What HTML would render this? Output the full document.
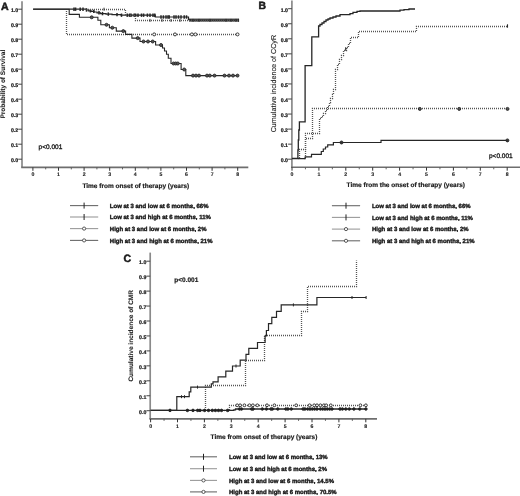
<!DOCTYPE html>
<html><head><meta charset="utf-8"><style>
html,body{margin:0;padding:0;background:#fff;width:520px;height:496px;overflow:hidden}
svg{display:block;filter:blur(0.45px)}
text{font-family:"Liberation Sans", sans-serif;fill:#1a1a1a;stroke:#1a1a1a;stroke-width:0.28px;text-rendering:geometricPrecision}
</style></head><body>
<svg width="520" height="496" viewBox="0 0 520 496">
<rect width="520" height="496" fill="#fff"/>
<text x="1.0" y="9.6" font-size="10.6" font-weight="bold" style="stroke-width:0.5px">A</text>
<line x1="22.0" y1="1.3" x2="22.0" y2="167.4" stroke="#8a8a8a" stroke-width="1.7"/>
<line x1="21.2" y1="167.4" x2="248.3" y2="167.4" stroke="#6e6e6e" stroke-width="1.6"/>
<line x1="18.2" y1="9.199999999999989" x2="22.0" y2="9.199999999999989" stroke="#444" stroke-width="1"/>
<text x="18.1" y="11.99999999999999" text-anchor="end" font-size="5.2" font-weight="bold" style="stroke-width:0.22px">1.0</text>
<line x1="18.2" y1="24.19999999999999" x2="22.0" y2="24.19999999999999" stroke="#444" stroke-width="1"/>
<text x="18.1" y="26.99999999999999" text-anchor="end" font-size="5.2" font-weight="bold" style="stroke-width:0.22px">0.9</text>
<line x1="18.2" y1="39.19999999999999" x2="22.0" y2="39.19999999999999" stroke="#444" stroke-width="1"/>
<text x="18.1" y="41.999999999999986" text-anchor="end" font-size="5.2" font-weight="bold" style="stroke-width:0.22px">0.8</text>
<line x1="18.2" y1="54.19999999999999" x2="22.0" y2="54.19999999999999" stroke="#444" stroke-width="1"/>
<text x="18.1" y="56.999999999999986" text-anchor="end" font-size="5.2" font-weight="bold" style="stroke-width:0.22px">0.7</text>
<line x1="18.2" y1="69.19999999999999" x2="22.0" y2="69.19999999999999" stroke="#444" stroke-width="1"/>
<text x="18.1" y="71.99999999999999" text-anchor="end" font-size="5.2" font-weight="bold" style="stroke-width:0.22px">0.6</text>
<line x1="18.2" y1="84.19999999999999" x2="22.0" y2="84.19999999999999" stroke="#444" stroke-width="1"/>
<text x="18.1" y="86.99999999999999" text-anchor="end" font-size="5.2" font-weight="bold" style="stroke-width:0.22px">0.5</text>
<line x1="18.2" y1="99.19999999999999" x2="22.0" y2="99.19999999999999" stroke="#444" stroke-width="1"/>
<text x="18.1" y="101.99999999999999" text-anchor="end" font-size="5.2" font-weight="bold" style="stroke-width:0.22px">0.4</text>
<line x1="18.2" y1="114.19999999999999" x2="22.0" y2="114.19999999999999" stroke="#444" stroke-width="1"/>
<text x="18.1" y="116.99999999999999" text-anchor="end" font-size="5.2" font-weight="bold" style="stroke-width:0.22px">0.3</text>
<line x1="18.2" y1="129.2" x2="22.0" y2="129.2" stroke="#444" stroke-width="1"/>
<text x="18.1" y="132.0" text-anchor="end" font-size="5.2" font-weight="bold" style="stroke-width:0.22px">0.2</text>
<line x1="18.2" y1="144.2" x2="22.0" y2="144.2" stroke="#444" stroke-width="1"/>
<text x="18.1" y="147.0" text-anchor="end" font-size="5.2" font-weight="bold" style="stroke-width:0.22px">0.1</text>
<line x1="18.2" y1="159.2" x2="22.0" y2="159.2" stroke="#444" stroke-width="1"/>
<text x="18.1" y="162.0" text-anchor="end" font-size="5.2" font-weight="bold" style="stroke-width:0.22px">0.0</text>
<line x1="32.9" y1="167.4" x2="32.9" y2="170.8" stroke="#333" stroke-width="1"/>
<text x="32.9" y="176.3" text-anchor="middle" font-size="5.2" font-weight="bold" style="stroke-width:0.12px">0</text>
<line x1="45.7" y1="167.4" x2="45.7" y2="169.4" stroke="#555" stroke-width="0.9"/>
<line x1="58.5" y1="167.4" x2="58.5" y2="170.8" stroke="#333" stroke-width="1"/>
<text x="58.5" y="176.3" text-anchor="middle" font-size="5.2" font-weight="bold" style="stroke-width:0.12px">1</text>
<line x1="71.3" y1="167.4" x2="71.3" y2="169.4" stroke="#555" stroke-width="0.9"/>
<line x1="84.1" y1="167.4" x2="84.1" y2="170.8" stroke="#333" stroke-width="1"/>
<text x="84.1" y="176.3" text-anchor="middle" font-size="5.2" font-weight="bold" style="stroke-width:0.12px">2</text>
<line x1="96.9" y1="167.4" x2="96.9" y2="169.4" stroke="#555" stroke-width="0.9"/>
<line x1="109.70000000000002" y1="167.4" x2="109.70000000000002" y2="170.8" stroke="#333" stroke-width="1"/>
<text x="109.70000000000002" y="176.3" text-anchor="middle" font-size="5.2" font-weight="bold" style="stroke-width:0.12px">3</text>
<line x1="122.50000000000001" y1="167.4" x2="122.50000000000001" y2="169.4" stroke="#555" stroke-width="0.9"/>
<line x1="135.3" y1="167.4" x2="135.3" y2="170.8" stroke="#333" stroke-width="1"/>
<text x="135.3" y="176.3" text-anchor="middle" font-size="5.2" font-weight="bold" style="stroke-width:0.12px">4</text>
<line x1="148.10000000000002" y1="167.4" x2="148.10000000000002" y2="169.4" stroke="#555" stroke-width="0.9"/>
<line x1="160.9" y1="167.4" x2="160.9" y2="170.8" stroke="#333" stroke-width="1"/>
<text x="160.9" y="176.3" text-anchor="middle" font-size="5.2" font-weight="bold" style="stroke-width:0.12px">5</text>
<line x1="173.70000000000002" y1="167.4" x2="173.70000000000002" y2="169.4" stroke="#555" stroke-width="0.9"/>
<line x1="186.50000000000003" y1="167.4" x2="186.50000000000003" y2="170.8" stroke="#333" stroke-width="1"/>
<text x="186.50000000000003" y="176.3" text-anchor="middle" font-size="5.2" font-weight="bold" style="stroke-width:0.12px">6</text>
<line x1="199.3" y1="167.4" x2="199.3" y2="169.4" stroke="#555" stroke-width="0.9"/>
<line x1="212.10000000000002" y1="167.4" x2="212.10000000000002" y2="170.8" stroke="#333" stroke-width="1"/>
<text x="212.10000000000002" y="176.3" text-anchor="middle" font-size="5.2" font-weight="bold" style="stroke-width:0.12px">7</text>
<line x1="224.90000000000003" y1="167.4" x2="224.90000000000003" y2="169.4" stroke="#555" stroke-width="0.9"/>
<line x1="237.70000000000002" y1="167.4" x2="237.70000000000002" y2="170.8" stroke="#333" stroke-width="1"/>
<text x="237.70000000000002" y="176.3" text-anchor="middle" font-size="5.2" font-weight="bold" style="stroke-width:0.12px">8</text>
<text transform="translate(3.6,84.2) rotate(-90)" x="0" y="0" text-anchor="middle" dominant-baseline="central" font-size="6.52" font-weight="bold" style="stroke-width:0.08px">Probability of Survival</text>
<text x="38.6" y="149.0" font-size="6.5" style="stroke-width:0.32px">p&lt;0.001</text>
<text x="135.8" y="188.0" text-anchor="middle" font-size="6.5" font-weight="bold" style="stroke-width:0.18px">Time from onset of therapy (years)</text>
<path d="M33.10,9.20 L86.50,9.20 L86.50,10.00 L88.50,10.00 L88.50,10.80 L91.00,10.80 L91.00,11.40 L94.00,11.40 L94.00,12.00 L97.00,12.00 L97.00,12.80 L100.50,12.80 L100.50,13.60 L106.00,13.60 L106.00,14.10 L112.00,14.10 L112.00,14.60 L121.00,14.60 L121.00,15.20 L155.30,15.20 L155.30,17.00 L188.50,17.00 L188.50,19.60 L190.00,19.60 L190.00,20.10 L238.60,20.10 L238.60,20.10" fill="none" stroke="#262626" stroke-width="1.2" stroke-linejoin="miter"/>
<line x1="74" y1="7.499999999999999" x2="74" y2="10.899999999999999" stroke="#262626" stroke-width="1.5"/>
<line x1="75.6" y1="7.499999999999999" x2="75.6" y2="10.899999999999999" stroke="#262626" stroke-width="1.5"/>
<line x1="80.2" y1="7.499999999999999" x2="80.2" y2="10.899999999999999" stroke="#262626" stroke-width="1.5"/>
<line x1="83" y1="7.499999999999999" x2="83" y2="10.899999999999999" stroke="#262626" stroke-width="1.5"/>
<line x1="86.5" y1="8.3" x2="86.5" y2="11.7" stroke="#262626" stroke-width="1.5"/>
<line x1="90.4" y1="9.100000000000001" x2="90.4" y2="12.5" stroke="#262626" stroke-width="1.5"/>
<line x1="93.8" y1="9.700000000000001" x2="93.8" y2="13.1" stroke="#262626" stroke-width="1.5"/>
<line x1="99" y1="11.100000000000001" x2="99" y2="14.5" stroke="#262626" stroke-width="1.5"/>
<line x1="102.5" y1="11.9" x2="102.5" y2="15.299999999999999" stroke="#262626" stroke-width="1.5"/>
<line x1="108.3" y1="12.4" x2="108.3" y2="15.799999999999999" stroke="#262626" stroke-width="1.5"/>
<line x1="117" y1="12.9" x2="117" y2="16.3" stroke="#262626" stroke-width="1.5"/>
<line x1="121.5" y1="13.5" x2="121.5" y2="16.9" stroke="#262626" stroke-width="1.5"/>
<line x1="127.3" y1="13.5" x2="127.3" y2="16.9" stroke="#262626" stroke-width="1.5"/>
<line x1="129.6" y1="13.5" x2="129.6" y2="16.9" stroke="#262626" stroke-width="1.5"/>
<line x1="131" y1="13.5" x2="131" y2="16.9" stroke="#262626" stroke-width="1.5"/>
<line x1="134.2" y1="13.5" x2="134.2" y2="16.9" stroke="#262626" stroke-width="1.5"/>
<line x1="135.6" y1="13.5" x2="135.6" y2="16.9" stroke="#262626" stroke-width="1.5"/>
<line x1="138" y1="13.5" x2="138" y2="16.9" stroke="#262626" stroke-width="1.5"/>
<line x1="141.5" y1="13.5" x2="141.5" y2="16.9" stroke="#262626" stroke-width="1.5"/>
<line x1="143.6" y1="13.5" x2="143.6" y2="16.9" stroke="#262626" stroke-width="1.5"/>
<line x1="147.4" y1="13.5" x2="147.4" y2="16.9" stroke="#262626" stroke-width="1.5"/>
<line x1="150" y1="13.5" x2="150" y2="16.9" stroke="#262626" stroke-width="1.5"/>
<line x1="153" y1="13.5" x2="153" y2="16.9" stroke="#262626" stroke-width="1.5"/>
<line x1="154.8" y1="13.5" x2="154.8" y2="16.9" stroke="#262626" stroke-width="1.5"/>
<line x1="161" y1="15.3" x2="161" y2="18.7" stroke="#262626" stroke-width="1.5"/>
<line x1="163.4" y1="15.3" x2="163.4" y2="18.7" stroke="#262626" stroke-width="1.5"/>
<line x1="166" y1="15.3" x2="166" y2="18.7" stroke="#262626" stroke-width="1.5"/>
<line x1="168" y1="15.3" x2="168" y2="18.7" stroke="#262626" stroke-width="1.5"/>
<line x1="169.2" y1="15.3" x2="169.2" y2="18.7" stroke="#262626" stroke-width="1.5"/>
<line x1="174" y1="15.3" x2="174" y2="18.7" stroke="#262626" stroke-width="1.5"/>
<line x1="176" y1="15.3" x2="176" y2="18.7" stroke="#262626" stroke-width="1.5"/>
<line x1="178.5" y1="15.3" x2="178.5" y2="18.7" stroke="#262626" stroke-width="1.5"/>
<line x1="181" y1="15.3" x2="181" y2="18.7" stroke="#262626" stroke-width="1.5"/>
<line x1="184.2" y1="15.3" x2="184.2" y2="18.7" stroke="#262626" stroke-width="1.5"/>
<line x1="186.5" y1="15.3" x2="186.5" y2="18.7" stroke="#262626" stroke-width="1.5"/>
<line x1="190" y1="18.400000000000002" x2="190" y2="21.8" stroke="#262626" stroke-width="1.5"/>
<line x1="192" y1="18.400000000000002" x2="192" y2="21.8" stroke="#262626" stroke-width="1.5"/>
<line x1="194" y1="18.400000000000002" x2="194" y2="21.8" stroke="#262626" stroke-width="1.5"/>
<line x1="196" y1="18.400000000000002" x2="196" y2="21.8" stroke="#262626" stroke-width="1.5"/>
<line x1="198" y1="18.400000000000002" x2="198" y2="21.8" stroke="#262626" stroke-width="1.5"/>
<line x1="200" y1="18.400000000000002" x2="200" y2="21.8" stroke="#262626" stroke-width="1.5"/>
<line x1="202" y1="18.400000000000002" x2="202" y2="21.8" stroke="#262626" stroke-width="1.5"/>
<line x1="204" y1="18.400000000000002" x2="204" y2="21.8" stroke="#262626" stroke-width="1.5"/>
<line x1="206" y1="18.400000000000002" x2="206" y2="21.8" stroke="#262626" stroke-width="1.5"/>
<line x1="208" y1="18.400000000000002" x2="208" y2="21.8" stroke="#262626" stroke-width="1.5"/>
<line x1="210" y1="18.400000000000002" x2="210" y2="21.8" stroke="#262626" stroke-width="1.5"/>
<line x1="212" y1="18.400000000000002" x2="212" y2="21.8" stroke="#262626" stroke-width="1.5"/>
<line x1="214" y1="18.400000000000002" x2="214" y2="21.8" stroke="#262626" stroke-width="1.5"/>
<line x1="216" y1="18.400000000000002" x2="216" y2="21.8" stroke="#262626" stroke-width="1.5"/>
<line x1="218" y1="18.400000000000002" x2="218" y2="21.8" stroke="#262626" stroke-width="1.5"/>
<line x1="220" y1="18.400000000000002" x2="220" y2="21.8" stroke="#262626" stroke-width="1.5"/>
<line x1="222" y1="18.400000000000002" x2="222" y2="21.8" stroke="#262626" stroke-width="1.5"/>
<line x1="224" y1="18.400000000000002" x2="224" y2="21.8" stroke="#262626" stroke-width="1.5"/>
<line x1="226" y1="18.400000000000002" x2="226" y2="21.8" stroke="#262626" stroke-width="1.5"/>
<line x1="228" y1="18.400000000000002" x2="228" y2="21.8" stroke="#262626" stroke-width="1.5"/>
<line x1="230" y1="18.400000000000002" x2="230" y2="21.8" stroke="#262626" stroke-width="1.5"/>
<line x1="232" y1="18.400000000000002" x2="232" y2="21.8" stroke="#262626" stroke-width="1.5"/>
<line x1="234" y1="18.400000000000002" x2="234" y2="21.8" stroke="#262626" stroke-width="1.5"/>
<line x1="236" y1="18.400000000000002" x2="236" y2="21.8" stroke="#262626" stroke-width="1.5"/>
<line x1="238" y1="18.400000000000002" x2="238" y2="21.8" stroke="#262626" stroke-width="1.5"/>
<path d="M86.50,9.50 L125.50,9.50 L125.50,15.50 L135.50,15.50 L135.50,20.50 L238.50,20.50 L238.50,20.50" fill="none" stroke="#555" stroke-width="1.3" stroke-dasharray="1,1" stroke-dashoffset="0.5" stroke-linejoin="miter"/>
<line x1="104" y1="7.699999999999999" x2="104" y2="10.7" stroke="#262626" stroke-width="0.9"/>
<line x1="150" y1="18.9" x2="150" y2="21.9" stroke="#262626" stroke-width="0.9"/>
<line x1="162" y1="18.9" x2="162" y2="21.9" stroke="#262626" stroke-width="0.9"/>
<line x1="171" y1="18.9" x2="171" y2="21.9" stroke="#262626" stroke-width="0.9"/>
<line x1="180" y1="18.9" x2="180" y2="21.9" stroke="#262626" stroke-width="0.9"/>
<line x1="193" y1="18.9" x2="193" y2="21.9" stroke="#262626" stroke-width="0.9"/>
<line x1="199" y1="18.9" x2="199" y2="21.9" stroke="#262626" stroke-width="0.9"/>
<line x1="210" y1="18.9" x2="210" y2="21.9" stroke="#262626" stroke-width="0.9"/>
<line x1="226" y1="18.9" x2="226" y2="21.9" stroke="#262626" stroke-width="0.9"/>
<line x1="231" y1="18.9" x2="231" y2="21.9" stroke="#262626" stroke-width="0.9"/>
<line x1="236" y1="18.9" x2="236" y2="21.9" stroke="#262626" stroke-width="0.9"/>
<line x1="238.6" y1="18.9" x2="238.6" y2="21.9" stroke="#262626" stroke-width="0.9"/>
<path d="M66.50,9.50 L66.50,9.50 L66.50,34.50 L237.50,34.50 L237.50,34.50" fill="none" stroke="#555" stroke-width="1.3" stroke-dasharray="1,1" stroke-dashoffset="0.5" stroke-linejoin="miter"/>
<circle cx="154.2" cy="34.4" r="1.5" fill="#fff" stroke="#262626" stroke-width="0.9"/>
<circle cx="175" cy="34.4" r="1.5" fill="#fff" stroke="#262626" stroke-width="0.9"/>
<circle cx="191.9" cy="34.4" r="1.5" fill="#fff" stroke="#262626" stroke-width="0.9"/>
<circle cx="195.4" cy="34.4" r="1.5" fill="#fff" stroke="#262626" stroke-width="0.9"/>
<circle cx="237.5" cy="34.4" r="1.5" fill="#fff" stroke="#262626" stroke-width="0.9"/>
<path d="M33.10,9.20 L69.20,9.20 L69.20,14.40 L79.40,14.40 L79.40,17.30 L97.90,17.30 L97.90,20.20 L100.80,20.20 L100.80,24.80 L109.40,24.80 L109.40,27.70 L116.30,27.70 L116.30,31.10 L125.60,31.10 L125.60,34.40 L131.90,34.40 L131.90,38.10 L140.00,38.10 L140.00,41.50 L155.60,41.50 L155.60,45.00 L162.50,45.00 L162.50,48.00 L164.50,48.00 L164.50,51.00 L166.50,51.00 L166.50,54.20 L168.30,54.20 L168.30,58.30 L171.00,58.30 L171.00,63.50 L181.10,63.50 L181.10,69.50 L185.80,69.50 L185.80,75.60 L238.30,75.60 L238.30,75.60" fill="none" stroke="#262626" stroke-width="1.1" stroke-linejoin="miter"/>
<circle cx="91.7" cy="17.3" r="1.5" fill="#555" stroke="#262626" stroke-width="0.9"/>
<circle cx="106.5" cy="24.8" r="1.5" fill="#555" stroke="#262626" stroke-width="0.9"/>
<circle cx="112.3" cy="27.7" r="1.5" fill="#555" stroke="#262626" stroke-width="0.9"/>
<circle cx="123.3" cy="31.1" r="1.5" fill="#555" stroke="#262626" stroke-width="0.9"/>
<circle cx="137.7" cy="38.1" r="1.5" fill="#555" stroke="#262626" stroke-width="0.9"/>
<circle cx="143.5" cy="41.5" r="1.5" fill="#555" stroke="#262626" stroke-width="0.9"/>
<circle cx="148" cy="41.5" r="1.5" fill="#555" stroke="#262626" stroke-width="0.9"/>
<circle cx="152.7" cy="41.5" r="1.5" fill="#555" stroke="#262626" stroke-width="0.9"/>
<circle cx="161" cy="45" r="1.5" fill="#555" stroke="#262626" stroke-width="0.9"/>
<circle cx="173.5" cy="63.5" r="1.5" fill="#555" stroke="#262626" stroke-width="0.9"/>
<circle cx="175.7" cy="63.5" r="1.5" fill="#555" stroke="#262626" stroke-width="0.9"/>
<circle cx="177.8" cy="63.5" r="1.5" fill="#555" stroke="#262626" stroke-width="0.9"/>
<circle cx="184.2" cy="69.5" r="1.5" fill="#555" stroke="#262626" stroke-width="0.9"/>
<circle cx="193" cy="75.6" r="1.5" fill="#555" stroke="#262626" stroke-width="0.9"/>
<circle cx="196" cy="75.6" r="1.5" fill="#555" stroke="#262626" stroke-width="0.9"/>
<circle cx="199" cy="75.6" r="1.5" fill="#555" stroke="#262626" stroke-width="0.9"/>
<circle cx="207" cy="75.6" r="1.5" fill="#555" stroke="#262626" stroke-width="0.9"/>
<circle cx="209.8" cy="75.6" r="1.5" fill="#555" stroke="#262626" stroke-width="0.9"/>
<circle cx="214.5" cy="75.6" r="1.5" fill="#555" stroke="#262626" stroke-width="0.9"/>
<circle cx="224.5" cy="75.6" r="1.5" fill="#555" stroke="#262626" stroke-width="0.9"/>
<circle cx="229" cy="75.6" r="1.5" fill="#555" stroke="#262626" stroke-width="0.9"/>
<circle cx="233" cy="75.6" r="1.5" fill="#555" stroke="#262626" stroke-width="0.9"/>
<circle cx="237.5" cy="75.6" r="1.5" fill="#555" stroke="#262626" stroke-width="0.9"/>
<text x="258.6" y="9.0" font-size="10.4" font-weight="bold" style="stroke-width:0.5px">B</text>
<line x1="291.9" y1="0.5" x2="291.9" y2="167.3" stroke="#8a8a8a" stroke-width="1.7"/>
<line x1="291.09999999999997" y1="167.3" x2="520" y2="167.3" stroke="#6e6e6e" stroke-width="1.6"/>
<line x1="288.09999999999997" y1="8.699999999999989" x2="291.9" y2="8.699999999999989" stroke="#444" stroke-width="1"/>
<text x="288.0" y="11.49999999999999" text-anchor="end" font-size="5.2" font-weight="bold" style="stroke-width:0.22px">1.0</text>
<line x1="288.09999999999997" y1="23.74999999999997" x2="291.9" y2="23.74999999999997" stroke="#444" stroke-width="1"/>
<text x="288.0" y="26.549999999999972" text-anchor="end" font-size="5.2" font-weight="bold" style="stroke-width:0.22px">0.9</text>
<line x1="288.09999999999997" y1="38.79999999999998" x2="291.9" y2="38.79999999999998" stroke="#444" stroke-width="1"/>
<text x="288.0" y="41.59999999999998" text-anchor="end" font-size="5.2" font-weight="bold" style="stroke-width:0.22px">0.8</text>
<line x1="288.09999999999997" y1="53.849999999999994" x2="291.9" y2="53.849999999999994" stroke="#444" stroke-width="1"/>
<text x="288.0" y="56.64999999999999" text-anchor="end" font-size="5.2" font-weight="bold" style="stroke-width:0.22px">0.7</text>
<line x1="288.09999999999997" y1="68.89999999999999" x2="291.9" y2="68.89999999999999" stroke="#444" stroke-width="1"/>
<text x="288.0" y="71.69999999999999" text-anchor="end" font-size="5.2" font-weight="bold" style="stroke-width:0.22px">0.6</text>
<line x1="288.09999999999997" y1="83.94999999999999" x2="291.9" y2="83.94999999999999" stroke="#444" stroke-width="1"/>
<text x="288.0" y="86.74999999999999" text-anchor="end" font-size="5.2" font-weight="bold" style="stroke-width:0.22px">0.5</text>
<line x1="288.09999999999997" y1="98.99999999999999" x2="291.9" y2="98.99999999999999" stroke="#444" stroke-width="1"/>
<text x="288.0" y="101.79999999999998" text-anchor="end" font-size="5.2" font-weight="bold" style="stroke-width:0.22px">0.4</text>
<line x1="288.09999999999997" y1="114.04999999999998" x2="291.9" y2="114.04999999999998" stroke="#444" stroke-width="1"/>
<text x="288.0" y="116.84999999999998" text-anchor="end" font-size="5.2" font-weight="bold" style="stroke-width:0.22px">0.3</text>
<line x1="288.09999999999997" y1="129.1" x2="291.9" y2="129.1" stroke="#444" stroke-width="1"/>
<text x="288.0" y="131.9" text-anchor="end" font-size="5.2" font-weight="bold" style="stroke-width:0.22px">0.2</text>
<line x1="288.09999999999997" y1="144.14999999999998" x2="291.9" y2="144.14999999999998" stroke="#444" stroke-width="1"/>
<text x="288.0" y="146.95" text-anchor="end" font-size="5.2" font-weight="bold" style="stroke-width:0.22px">0.1</text>
<line x1="288.09999999999997" y1="159.2" x2="291.9" y2="159.2" stroke="#444" stroke-width="1"/>
<text x="288.0" y="162.0" text-anchor="end" font-size="5.2" font-weight="bold" style="stroke-width:0.22px">0.0</text>
<line x1="292.0" y1="167.3" x2="292.0" y2="170.70000000000002" stroke="#333" stroke-width="1"/>
<text x="292.0" y="176.20000000000002" text-anchor="middle" font-size="5.2" font-weight="bold" style="stroke-width:0.12px">0</text>
<line x1="305.45" y1="167.3" x2="305.45" y2="169.3" stroke="#555" stroke-width="0.9"/>
<line x1="318.9" y1="167.3" x2="318.9" y2="170.70000000000002" stroke="#333" stroke-width="1"/>
<text x="318.9" y="176.20000000000002" text-anchor="middle" font-size="5.2" font-weight="bold" style="stroke-width:0.12px">1</text>
<line x1="332.35" y1="167.3" x2="332.35" y2="169.3" stroke="#555" stroke-width="0.9"/>
<line x1="345.8" y1="167.3" x2="345.8" y2="170.70000000000002" stroke="#333" stroke-width="1"/>
<text x="345.8" y="176.20000000000002" text-anchor="middle" font-size="5.2" font-weight="bold" style="stroke-width:0.12px">2</text>
<line x1="359.25" y1="167.3" x2="359.25" y2="169.3" stroke="#555" stroke-width="0.9"/>
<line x1="372.7" y1="167.3" x2="372.7" y2="170.70000000000002" stroke="#333" stroke-width="1"/>
<text x="372.7" y="176.20000000000002" text-anchor="middle" font-size="5.2" font-weight="bold" style="stroke-width:0.12px">3</text>
<line x1="386.15" y1="167.3" x2="386.15" y2="169.3" stroke="#555" stroke-width="0.9"/>
<line x1="399.6" y1="167.3" x2="399.6" y2="170.70000000000002" stroke="#333" stroke-width="1"/>
<text x="399.6" y="176.20000000000002" text-anchor="middle" font-size="5.2" font-weight="bold" style="stroke-width:0.12px">4</text>
<line x1="413.05" y1="167.3" x2="413.05" y2="169.3" stroke="#555" stroke-width="0.9"/>
<line x1="426.5" y1="167.3" x2="426.5" y2="170.70000000000002" stroke="#333" stroke-width="1"/>
<text x="426.5" y="176.20000000000002" text-anchor="middle" font-size="5.2" font-weight="bold" style="stroke-width:0.12px">5</text>
<line x1="439.95" y1="167.3" x2="439.95" y2="169.3" stroke="#555" stroke-width="0.9"/>
<line x1="453.4" y1="167.3" x2="453.4" y2="170.70000000000002" stroke="#333" stroke-width="1"/>
<text x="453.4" y="176.20000000000002" text-anchor="middle" font-size="5.2" font-weight="bold" style="stroke-width:0.12px">6</text>
<line x1="466.84999999999997" y1="167.3" x2="466.84999999999997" y2="169.3" stroke="#555" stroke-width="0.9"/>
<line x1="480.29999999999995" y1="167.3" x2="480.29999999999995" y2="170.70000000000002" stroke="#333" stroke-width="1"/>
<text x="480.29999999999995" y="176.20000000000002" text-anchor="middle" font-size="5.2" font-weight="bold" style="stroke-width:0.12px">7</text>
<line x1="493.75" y1="167.3" x2="493.75" y2="169.3" stroke="#555" stroke-width="0.9"/>
<line x1="507.2" y1="167.3" x2="507.2" y2="170.70000000000002" stroke="#333" stroke-width="1"/>
<text x="507.2" y="176.20000000000002" text-anchor="middle" font-size="5.2" font-weight="bold" style="stroke-width:0.12px">8</text>
<text transform="translate(273.4,83.6) rotate(-90)" x="0" y="0" text-anchor="middle" dominant-baseline="central" font-size="7.2" font-weight="normal" style="stroke-width:0.12px">Cumulative incidence of CCyR</text>
<text x="489" y="157.7" font-size="6.5" style="stroke-width:0.32px">p&lt;0.001</text>
<text x="405.8" y="187.3" text-anchor="middle" font-size="6.5" font-weight="bold" style="stroke-width:0.18px">Time from the onset of therapy (years)</text>
<path d="M292.00,158.40 L297.90,158.40 L297.90,150.00 L298.30,150.00 L298.30,140.00 L298.80,140.00 L298.80,130.00 L299.40,130.00 L299.40,121.90 L305.10,121.90 L305.10,65.70 L311.80,65.70 L311.80,36.90 L318.60,36.90 L318.60,26.00 L320.00,26.00 L320.00,24.50 L322.00,24.50 L322.00,23.00 L324.00,23.00 L324.00,21.50 L326.00,21.50 L326.00,20.00 L328.00,20.00 L328.00,19.00 L330.00,19.00 L330.00,18.00 L333.00,18.00 L333.00,17.00 L336.00,17.00 L336.00,16.00 L340.00,16.00 L340.00,14.60 L350.00,14.60 L350.00,13.60 L353.00,13.60 L353.00,12.40 L357.00,12.40 L357.00,11.30 L360.00,11.30 L360.00,11.00 L400.00,11.00 L400.00,10.20 L404.00,10.20 L404.00,9.60 L409.00,9.60 L409.00,9.00 L415.00,9.00 L415.00,9.00" fill="none" stroke="#262626" stroke-width="1.3" stroke-linejoin="miter"/>
<path d="M298.50,158.50 L299.50,158.50 L299.50,149.50 L305.50,149.50 L305.50,133.50 L319.50,133.50 L319.50,118.50 L321.50,118.50 L321.50,116.50 L323.50,116.50 L323.50,113.50 L325.50,113.50 L325.50,110.50 L327.50,110.50 L327.50,106.50 L329.50,106.50 L329.50,102.50 L330.50,102.50 L330.50,98.50 L332.50,98.50 L332.50,94.50 L333.50,94.50 L333.50,89.50 L335.50,89.50 L335.50,69.50 L337.50,69.50 L337.50,64.50 L339.50,64.50 L339.50,59.50 L341.50,59.50 L341.50,55.50 L343.50,55.50 L343.50,50.50 L346.50,50.50 L346.50,47.50 L348.50,47.50 L348.50,43.50 L350.50,43.50 L350.50,37.50 L358.50,37.50 L358.50,31.50 L416.50,31.50 L416.50,26.50 L507.50,26.50 L507.50,26.50" fill="none" stroke="#555" stroke-width="1.3" stroke-dasharray="1,1" stroke-dashoffset="0.5" stroke-linejoin="miter"/>
<line x1="345.7" y1="47.3" x2="345.7" y2="50.7" stroke="#262626" stroke-width="1.1"/>
<line x1="507.5" y1="24.3" x2="507.5" y2="27.7" stroke="#262626" stroke-width="1.1"/>
<path d="M304.50,158.50 L305.50,158.50 L305.50,138.50 L312.50,138.50 L312.50,108.50 L507.50,108.50 L507.50,108.50" fill="none" stroke="#555" stroke-width="1.3" stroke-dasharray="1,1" stroke-dashoffset="0.5" stroke-linejoin="miter"/>
<circle cx="419.8" cy="108.9" r="1.5" fill="#555" stroke="#262626" stroke-width="0.9"/>
<circle cx="459.2" cy="108.9" r="1.5" fill="#555" stroke="#262626" stroke-width="0.9"/>
<circle cx="507.5" cy="108.9" r="1.5" fill="#555" stroke="#262626" stroke-width="0.9"/>
<path d="M292.00,158.60 L305.20,158.60 L305.20,156.90 L311.50,156.90 L311.50,154.30 L321.30,154.30 L321.30,151.50 L323.30,151.50 L323.30,149.00 L325.50,149.00 L325.50,147.00 L327.70,147.00 L327.70,144.80 L333.40,144.80 L333.40,142.50 L381.00,142.50 L381.00,140.40 L507.40,140.40 L507.40,140.40" fill="none" stroke="#262626" stroke-width="1.2" stroke-linejoin="miter"/>
<circle cx="341.5" cy="142.5" r="1.5" fill="#333" stroke="#262626" stroke-width="0.9"/>
<circle cx="507.4" cy="140.4" r="1.5" fill="#333" stroke="#262626" stroke-width="0.9"/>
<text x="123.4" y="262.0" font-size="10.6" font-weight="bold" style="stroke-width:0.5px">C</text>
<line x1="150.2" y1="252.6" x2="150.2" y2="418.9" stroke="#8a8a8a" stroke-width="1.7"/>
<line x1="149.39999999999998" y1="418.9" x2="377" y2="418.9" stroke="#6e6e6e" stroke-width="1.6"/>
<line x1="146.39999999999998" y1="261.2" x2="150.2" y2="261.2" stroke="#444" stroke-width="1"/>
<text x="146.29999999999998" y="264.0" text-anchor="end" font-size="5.2" font-weight="bold" style="stroke-width:0.22px">1.0</text>
<line x1="146.39999999999998" y1="276.15" x2="150.2" y2="276.15" stroke="#444" stroke-width="1"/>
<text x="146.29999999999998" y="278.95" text-anchor="end" font-size="5.2" font-weight="bold" style="stroke-width:0.22px">0.9</text>
<line x1="146.39999999999998" y1="291.09999999999997" x2="150.2" y2="291.09999999999997" stroke="#444" stroke-width="1"/>
<text x="146.29999999999998" y="293.9" text-anchor="end" font-size="5.2" font-weight="bold" style="stroke-width:0.22px">0.8</text>
<line x1="146.39999999999998" y1="306.05" x2="150.2" y2="306.05" stroke="#444" stroke-width="1"/>
<text x="146.29999999999998" y="308.85" text-anchor="end" font-size="5.2" font-weight="bold" style="stroke-width:0.22px">0.7</text>
<line x1="146.39999999999998" y1="321.0" x2="150.2" y2="321.0" stroke="#444" stroke-width="1"/>
<text x="146.29999999999998" y="323.8" text-anchor="end" font-size="5.2" font-weight="bold" style="stroke-width:0.22px">0.6</text>
<line x1="146.39999999999998" y1="335.95" x2="150.2" y2="335.95" stroke="#444" stroke-width="1"/>
<text x="146.29999999999998" y="338.75" text-anchor="end" font-size="5.2" font-weight="bold" style="stroke-width:0.22px">0.5</text>
<line x1="146.39999999999998" y1="350.9" x2="150.2" y2="350.9" stroke="#444" stroke-width="1"/>
<text x="146.29999999999998" y="353.7" text-anchor="end" font-size="5.2" font-weight="bold" style="stroke-width:0.22px">0.4</text>
<line x1="146.39999999999998" y1="365.84999999999997" x2="150.2" y2="365.84999999999997" stroke="#444" stroke-width="1"/>
<text x="146.29999999999998" y="368.65" text-anchor="end" font-size="5.2" font-weight="bold" style="stroke-width:0.22px">0.3</text>
<line x1="146.39999999999998" y1="380.8" x2="150.2" y2="380.8" stroke="#444" stroke-width="1"/>
<text x="146.29999999999998" y="383.6" text-anchor="end" font-size="5.2" font-weight="bold" style="stroke-width:0.22px">0.2</text>
<line x1="146.39999999999998" y1="395.75" x2="150.2" y2="395.75" stroke="#444" stroke-width="1"/>
<text x="146.29999999999998" y="398.55" text-anchor="end" font-size="5.2" font-weight="bold" style="stroke-width:0.22px">0.1</text>
<line x1="146.39999999999998" y1="410.7" x2="150.2" y2="410.7" stroke="#444" stroke-width="1"/>
<text x="146.29999999999998" y="413.5" text-anchor="end" font-size="5.2" font-weight="bold" style="stroke-width:0.22px">0.0</text>
<line x1="150.6" y1="418.9" x2="150.6" y2="422.29999999999995" stroke="#333" stroke-width="1"/>
<text x="150.6" y="427.79999999999995" text-anchor="middle" font-size="5.2" font-weight="bold" style="stroke-width:0.12px">0</text>
<line x1="164.05" y1="418.9" x2="164.05" y2="420.9" stroke="#555" stroke-width="0.9"/>
<line x1="177.5" y1="418.9" x2="177.5" y2="422.29999999999995" stroke="#333" stroke-width="1"/>
<text x="177.5" y="427.79999999999995" text-anchor="middle" font-size="5.2" font-weight="bold" style="stroke-width:0.12px">1</text>
<line x1="190.95" y1="418.9" x2="190.95" y2="420.9" stroke="#555" stroke-width="0.9"/>
<line x1="204.39999999999998" y1="418.9" x2="204.39999999999998" y2="422.29999999999995" stroke="#333" stroke-width="1"/>
<text x="204.39999999999998" y="427.79999999999995" text-anchor="middle" font-size="5.2" font-weight="bold" style="stroke-width:0.12px">2</text>
<line x1="217.84999999999997" y1="418.9" x2="217.84999999999997" y2="420.9" stroke="#555" stroke-width="0.9"/>
<line x1="231.29999999999998" y1="418.9" x2="231.29999999999998" y2="422.29999999999995" stroke="#333" stroke-width="1"/>
<text x="231.29999999999998" y="427.79999999999995" text-anchor="middle" font-size="5.2" font-weight="bold" style="stroke-width:0.12px">3</text>
<line x1="244.75" y1="418.9" x2="244.75" y2="420.9" stroke="#555" stroke-width="0.9"/>
<line x1="258.2" y1="418.9" x2="258.2" y2="422.29999999999995" stroke="#333" stroke-width="1"/>
<text x="258.2" y="427.79999999999995" text-anchor="middle" font-size="5.2" font-weight="bold" style="stroke-width:0.12px">4</text>
<line x1="271.65" y1="418.9" x2="271.65" y2="420.9" stroke="#555" stroke-width="0.9"/>
<line x1="285.1" y1="418.9" x2="285.1" y2="422.29999999999995" stroke="#333" stroke-width="1"/>
<text x="285.1" y="427.79999999999995" text-anchor="middle" font-size="5.2" font-weight="bold" style="stroke-width:0.12px">5</text>
<line x1="298.55" y1="418.9" x2="298.55" y2="420.9" stroke="#555" stroke-width="0.9"/>
<line x1="312.0" y1="418.9" x2="312.0" y2="422.29999999999995" stroke="#333" stroke-width="1"/>
<text x="312.0" y="427.79999999999995" text-anchor="middle" font-size="5.2" font-weight="bold" style="stroke-width:0.12px">6</text>
<line x1="325.45" y1="418.9" x2="325.45" y2="420.9" stroke="#555" stroke-width="0.9"/>
<line x1="338.9" y1="418.9" x2="338.9" y2="422.29999999999995" stroke="#333" stroke-width="1"/>
<text x="338.9" y="427.79999999999995" text-anchor="middle" font-size="5.2" font-weight="bold" style="stroke-width:0.12px">7</text>
<line x1="352.34999999999997" y1="418.9" x2="352.34999999999997" y2="420.9" stroke="#555" stroke-width="0.9"/>
<line x1="365.79999999999995" y1="418.9" x2="365.79999999999995" y2="422.29999999999995" stroke="#333" stroke-width="1"/>
<text x="365.79999999999995" y="427.79999999999995" text-anchor="middle" font-size="5.2" font-weight="bold" style="stroke-width:0.12px">8</text>
<text transform="translate(131.2,335.8) rotate(-90)" x="0" y="0" text-anchor="middle" dominant-baseline="central" font-size="6.52" font-weight="bold" style="stroke-width:0.08px">Cumulative incidence of CMR</text>
<text x="174.3" y="281.6" font-size="6.5" font-weight="bold" style="stroke-width:0.2px">p&lt;0.001</text>
<text x="264" y="438.8" text-anchor="middle" font-size="6.5" font-weight="bold" style="stroke-width:0.18px">Time from onset of therapy (years)</text>
<path d="M200.50,410.50 L205.50,410.50 L205.50,385.50 L245.50,385.50 L245.50,360.50 L264.50,360.50 L264.50,335.50 L301.50,335.50 L301.50,311.50 L307.50,311.50 L307.50,286.50 L356.50,286.50 L356.50,260.50 L356.50,260.50 L356.50,260.50" fill="none" stroke="#555" stroke-width="1.3" stroke-dasharray="1,1" stroke-dashoffset="0.5" stroke-linejoin="miter"/>
<path d="M150.60,410.40 L176.80,410.40 L176.80,396.70 L189.20,396.70 L189.20,391.90 L190.80,391.90 L190.80,387.10 L211.30,387.10 L211.30,383.80 L213.00,383.80 L213.00,381.90 L218.10,381.90 L218.10,376.90 L225.80,376.90 L225.80,371.20 L232.50,371.20 L232.50,366.00 L240.20,366.00 L240.20,360.20 L246.00,360.20 L246.00,354.40 L248.80,354.40 L248.80,348.30 L257.50,348.30 L257.50,342.50 L265.10,342.50 L265.10,335.90 L266.40,335.90 L266.40,330.50 L268.50,330.50 L268.50,323.70 L271.80,323.70 L271.80,317.40 L276.50,317.40 L276.50,311.40 L281.20,311.40 L281.20,304.90 L316.90,304.90 L316.90,297.50 L366.10,297.50 L366.10,297.50" fill="none" stroke="#262626" stroke-width="1.2" stroke-linejoin="miter"/>
<line x1="181.5" y1="395.2" x2="181.5" y2="398.2" stroke="#262626" stroke-width="1.0"/>
<line x1="184.5" y1="395.2" x2="184.5" y2="398.2" stroke="#262626" stroke-width="1.0"/>
<line x1="197.5" y1="385.6" x2="197.5" y2="388.6" stroke="#262626" stroke-width="1.0"/>
<line x1="236" y1="364.5" x2="236" y2="367.5" stroke="#262626" stroke-width="1.0"/>
<line x1="293.4" y1="303.4" x2="293.4" y2="306.4" stroke="#262626" stroke-width="1.0"/>
<line x1="352" y1="296.0" x2="352" y2="299.0" stroke="#262626" stroke-width="1.0"/>
<line x1="366.1" y1="296.0" x2="366.1" y2="299.0" stroke="#262626" stroke-width="1.0"/>
<path d="M224.50,410.50 L229.50,410.50 L229.50,405.50 L366.50,405.50 L366.50,405.50" fill="none" stroke="#555" stroke-width="1.3" stroke-dasharray="1,1" stroke-dashoffset="0.5" stroke-linejoin="miter"/>
<circle cx="237.2" cy="405.3" r="1.4" fill="#fff" stroke="#262626" stroke-width="0.9"/>
<circle cx="240.1" cy="405.3" r="1.4" fill="#fff" stroke="#262626" stroke-width="0.9"/>
<circle cx="244.4" cy="405.3" r="1.4" fill="#fff" stroke="#262626" stroke-width="0.9"/>
<circle cx="249.5" cy="405.3" r="1.4" fill="#fff" stroke="#262626" stroke-width="0.9"/>
<circle cx="252.9" cy="405.3" r="1.4" fill="#fff" stroke="#262626" stroke-width="0.9"/>
<circle cx="257.3" cy="405.3" r="1.4" fill="#fff" stroke="#262626" stroke-width="0.9"/>
<circle cx="267" cy="405.3" r="1.4" fill="#fff" stroke="#262626" stroke-width="0.9"/>
<circle cx="274.4" cy="405.3" r="1.4" fill="#fff" stroke="#262626" stroke-width="0.9"/>
<circle cx="296.2" cy="405.3" r="1.4" fill="#fff" stroke="#262626" stroke-width="0.9"/>
<circle cx="309.6" cy="405.3" r="1.4" fill="#fff" stroke="#262626" stroke-width="0.9"/>
<circle cx="314.2" cy="405.3" r="1.4" fill="#fff" stroke="#262626" stroke-width="0.9"/>
<circle cx="317" cy="405.3" r="1.4" fill="#fff" stroke="#262626" stroke-width="0.9"/>
<circle cx="320.4" cy="405.3" r="1.4" fill="#fff" stroke="#262626" stroke-width="0.9"/>
<circle cx="323.9" cy="405.3" r="1.4" fill="#fff" stroke="#262626" stroke-width="0.9"/>
<circle cx="326.2" cy="405.3" r="1.4" fill="#fff" stroke="#262626" stroke-width="0.9"/>
<circle cx="330.8" cy="405.3" r="1.4" fill="#fff" stroke="#262626" stroke-width="0.9"/>
<circle cx="360.4" cy="405.3" r="1.4" fill="#fff" stroke="#262626" stroke-width="0.9"/>
<circle cx="365.9" cy="405.3" r="1.4" fill="#fff" stroke="#262626" stroke-width="0.9"/>
<path d="M150.60,410.40 L233.80,410.40 L233.80,409.80 L235.50,409.80 L235.50,409.00 L366.00,409.00 L366.00,409.00" fill="none" stroke="#262626" stroke-width="1.3" stroke-linejoin="miter"/>
<circle cx="170" cy="410.4" r="1.3" fill="#1e1e1e" stroke="#262626" stroke-width="0.9"/>
<circle cx="187.4" cy="410.4" r="1.3" fill="#1e1e1e" stroke="#262626" stroke-width="0.9"/>
<circle cx="193" cy="410.4" r="1.3" fill="#1e1e1e" stroke="#262626" stroke-width="0.9"/>
<circle cx="197.7" cy="410.4" r="1.3" fill="#1e1e1e" stroke="#262626" stroke-width="0.9"/>
<circle cx="200" cy="410.4" r="1.3" fill="#1e1e1e" stroke="#262626" stroke-width="0.9"/>
<circle cx="204.6" cy="410.4" r="1.3" fill="#1e1e1e" stroke="#262626" stroke-width="0.9"/>
<circle cx="208.5" cy="410.4" r="1.3" fill="#1e1e1e" stroke="#262626" stroke-width="0.9"/>
<circle cx="212.3" cy="410.4" r="1.3" fill="#1e1e1e" stroke="#262626" stroke-width="0.9"/>
<circle cx="215.4" cy="410.4" r="1.3" fill="#1e1e1e" stroke="#262626" stroke-width="0.9"/>
<circle cx="218.5" cy="410.4" r="1.3" fill="#1e1e1e" stroke="#262626" stroke-width="0.9"/>
<circle cx="221.5" cy="410.4" r="1.3" fill="#1e1e1e" stroke="#262626" stroke-width="0.9"/>
<circle cx="227.7" cy="410.4" r="1.3" fill="#1e1e1e" stroke="#262626" stroke-width="0.9"/>
<circle cx="239.5" cy="409.0" r="1.3" fill="#1e1e1e" stroke="#262626" stroke-width="0.9"/>
<circle cx="241.5" cy="409.0" r="1.3" fill="#1e1e1e" stroke="#262626" stroke-width="0.9"/>
<circle cx="251.6" cy="409.0" r="1.3" fill="#1e1e1e" stroke="#262626" stroke-width="0.9"/>
<circle cx="253" cy="409.0" r="1.3" fill="#1e1e1e" stroke="#262626" stroke-width="0.9"/>
<circle cx="262.3" cy="409.0" r="1.3" fill="#1e1e1e" stroke="#262626" stroke-width="0.9"/>
<circle cx="266.4" cy="409.0" r="1.3" fill="#1e1e1e" stroke="#262626" stroke-width="0.9"/>
<circle cx="271" cy="409.0" r="1.3" fill="#1e1e1e" stroke="#262626" stroke-width="0.9"/>
<circle cx="272.4" cy="409.0" r="1.3" fill="#1e1e1e" stroke="#262626" stroke-width="0.9"/>
<circle cx="277.8" cy="409.0" r="1.3" fill="#1e1e1e" stroke="#262626" stroke-width="0.9"/>
<circle cx="285.9" cy="409.0" r="1.3" fill="#1e1e1e" stroke="#262626" stroke-width="0.9"/>
<circle cx="287.9" cy="409.0" r="1.3" fill="#1e1e1e" stroke="#262626" stroke-width="0.9"/>
<circle cx="291.3" cy="409.0" r="1.3" fill="#1e1e1e" stroke="#262626" stroke-width="0.9"/>
<circle cx="303.1" cy="409.0" r="1.3" fill="#1e1e1e" stroke="#262626" stroke-width="0.9"/>
<circle cx="304.9" cy="409.0" r="1.3" fill="#1e1e1e" stroke="#262626" stroke-width="0.9"/>
<circle cx="307.7" cy="409.0" r="1.3" fill="#1e1e1e" stroke="#262626" stroke-width="0.9"/>
<circle cx="310" cy="409.0" r="1.3" fill="#1e1e1e" stroke="#262626" stroke-width="0.9"/>
<circle cx="312.3" cy="409.0" r="1.3" fill="#1e1e1e" stroke="#262626" stroke-width="0.9"/>
<circle cx="314.6" cy="409.0" r="1.3" fill="#1e1e1e" stroke="#262626" stroke-width="0.9"/>
<circle cx="317" cy="409.0" r="1.3" fill="#1e1e1e" stroke="#262626" stroke-width="0.9"/>
<circle cx="320.4" cy="409.0" r="1.3" fill="#1e1e1e" stroke="#262626" stroke-width="0.9"/>
<circle cx="322.7" cy="409.0" r="1.3" fill="#1e1e1e" stroke="#262626" stroke-width="0.9"/>
<circle cx="325" cy="409.0" r="1.3" fill="#1e1e1e" stroke="#262626" stroke-width="0.9"/>
<circle cx="327.3" cy="409.0" r="1.3" fill="#1e1e1e" stroke="#262626" stroke-width="0.9"/>
<circle cx="329.7" cy="409.0" r="1.3" fill="#1e1e1e" stroke="#262626" stroke-width="0.9"/>
<circle cx="332" cy="409.0" r="1.3" fill="#1e1e1e" stroke="#262626" stroke-width="0.9"/>
<circle cx="340" cy="409.0" r="1.3" fill="#1e1e1e" stroke="#262626" stroke-width="0.9"/>
<circle cx="342.4" cy="409.0" r="1.3" fill="#1e1e1e" stroke="#262626" stroke-width="0.9"/>
<circle cx="345.8" cy="409.0" r="1.3" fill="#1e1e1e" stroke="#262626" stroke-width="0.9"/>
<circle cx="349.3" cy="409.0" r="1.3" fill="#1e1e1e" stroke="#262626" stroke-width="0.9"/>
<circle cx="353.9" cy="409.0" r="1.3" fill="#1e1e1e" stroke="#262626" stroke-width="0.9"/>
<circle cx="359.7" cy="409.0" r="1.3" fill="#1e1e1e" stroke="#262626" stroke-width="0.9"/>
<circle cx="365.9" cy="409.0" r="1.3" fill="#1e1e1e" stroke="#262626" stroke-width="0.9"/>
<line x1="70" y1="205.6" x2="98.2" y2="205.6" stroke="#6a6a6a" stroke-width="1.1"/>
<line x1="84.1" y1="202.6" x2="84.1" y2="208.6" stroke="#222" stroke-width="1"/>
<text x="109.8" y="207.7" font-size="6.0" font-weight="bold" style="stroke-width:0.38px">Low at 3 and low at 6 months, 66%</text>
<line x1="70" y1="217.0" x2="98.2" y2="217.0" stroke="#9a9a9a" stroke-width="1.1"/>
<line x1="84.1" y1="214.0" x2="84.1" y2="220.0" stroke="#222" stroke-width="1"/>
<text x="109.8" y="219.1" font-size="6.0" font-weight="bold" style="stroke-width:0.38px">Low at 3 and high at 6 months, 11%</text>
<line x1="70" y1="228.6" x2="98.2" y2="228.6" stroke="#9a9a9a" stroke-width="1.1"/>
<circle cx="84.1" cy="228.6" r="1.6" fill="#fff" stroke="#333" stroke-width="0.8"/>
<text x="109.8" y="230.7" font-size="6.0" font-weight="bold" style="stroke-width:0.38px">High at 3 and low at 6 months, 2%</text>
<line x1="70" y1="240.4" x2="98.2" y2="240.4" stroke="#6a6a6a" stroke-width="1.1"/>
<circle cx="84.1" cy="240.4" r="1.6" fill="#fff" stroke="#333" stroke-width="0.8"/>
<text x="109.8" y="242.5" font-size="6.0" font-weight="bold" style="stroke-width:0.38px">High at 3 and high at 6 months, 21%</text>
<line x1="331.9" y1="205.7" x2="360.1" y2="205.7" stroke="#6a6a6a" stroke-width="1.1"/>
<line x1="346.0" y1="202.7" x2="346.0" y2="208.7" stroke="#222" stroke-width="1"/>
<text x="371.9" y="207.79999999999998" font-size="6.0" font-weight="bold" style="stroke-width:0.38px">Low at 3 and low at 6 months, 66%</text>
<line x1="331.9" y1="217.4" x2="360.1" y2="217.4" stroke="#9a9a9a" stroke-width="1.1"/>
<line x1="346.0" y1="214.4" x2="346.0" y2="220.4" stroke="#222" stroke-width="1"/>
<text x="371.9" y="219.5" font-size="6.0" font-weight="bold" style="stroke-width:0.38px">Low at 3 and high at 6 months, 11%</text>
<line x1="331.9" y1="229.1" x2="360.1" y2="229.1" stroke="#9a9a9a" stroke-width="1.1"/>
<circle cx="346.0" cy="229.1" r="1.6" fill="#fff" stroke="#333" stroke-width="0.8"/>
<text x="371.9" y="231.2" font-size="6.0" font-weight="bold" style="stroke-width:0.38px">High at 3 and low at 6 months, 2%</text>
<line x1="331.9" y1="240.8" x2="360.1" y2="240.8" stroke="#6a6a6a" stroke-width="1.1"/>
<circle cx="346.0" cy="240.8" r="1.6" fill="#fff" stroke="#333" stroke-width="0.8"/>
<text x="371.9" y="242.9" font-size="6.0" font-weight="bold" style="stroke-width:0.38px">High at 3 and high at 6 months, 21%</text>
<line x1="190" y1="456.8" x2="217" y2="456.8" stroke="#6a6a6a" stroke-width="1.1"/>
<line x1="203.5" y1="453.8" x2="203.5" y2="459.8" stroke="#222" stroke-width="1"/>
<text x="229" y="458.90000000000003" font-size="6.0" font-weight="bold" style="stroke-width:0.38px">Low at 3 and low at 6 months, 13%</text>
<line x1="190" y1="468.7" x2="217" y2="468.7" stroke="#9a9a9a" stroke-width="1.1"/>
<line x1="203.5" y1="465.7" x2="203.5" y2="471.7" stroke="#222" stroke-width="1"/>
<text x="229" y="470.8" font-size="6.0" font-weight="bold" style="stroke-width:0.38px">Low at 3 and high at 6 months, 2%</text>
<line x1="190" y1="480.4" x2="217" y2="480.4" stroke="#9a9a9a" stroke-width="1.1"/>
<circle cx="203.5" cy="480.4" r="1.6" fill="#fff" stroke="#333" stroke-width="0.8"/>
<text x="229" y="482.5" font-size="6.0" font-weight="bold" style="stroke-width:0.38px">High at 3 and low at 6 months, 14.5%</text>
<line x1="190" y1="491.9" x2="217" y2="491.9" stroke="#6a6a6a" stroke-width="1.1"/>
<circle cx="203.5" cy="491.9" r="1.6" fill="#fff" stroke="#333" stroke-width="0.8"/>
<text x="229" y="494.0" font-size="6.0" font-weight="bold" style="stroke-width:0.38px">High at 3 and high at 6 months, 70.5%</text>
</svg>
</body></html>
